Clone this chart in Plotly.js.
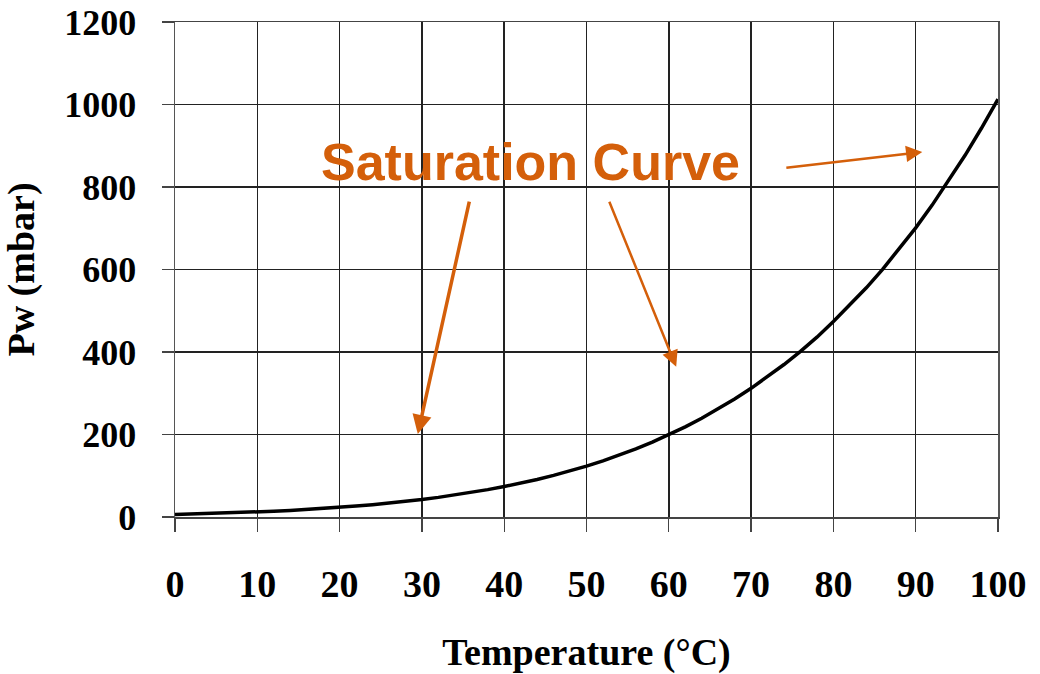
<!DOCTYPE html>
<html>
<head>
<meta charset="utf-8">
<script src="https://cdn.plot.ly/plotly-3.0.1.min.js"></script>
<style>html,body{margin:0;padding:0;background:#fff;}#chart{width:1040px;height:674px;}</style>
</head>
<body>
<div id="chart"></div>
<script>
// Temperature (°C)
const temperature = [0,2,4,6,8,10,12,14,16,18,20,22,24,26,28,30,32,34,36,38,40,42,44,46,48,50,52,54,56,58,60,62,64,66,68,70,72,74,76,78,80,82,84,86,88,90,92,94,96,98,100];
// Saturation vapour pressure Pw (mbar)
const pressure = [6.1,7.1,8.1,9.3,10.7,12.3,14.0,16.0,18.2,20.6,23.4,26.4,29.8,33.6,37.8,42.4,47.6,53.2,59.4,66.3,73.8,82.0,91.0,100.9,111.7,123.4,136.2,150.1,165.1,181.5,199.3,218.6,239.4,261.8,286.0,311.9,339.7,369.6,401.7,436.0,473.8,513.4,555.6,601.0,649.4,701.0,756.1,814.6,876.8,943.0,1013.0];
const xTicks = [0,10,20,30,40,50,60,70,80,90,100];
const yTicks = [0,200,400,600,800,1000,1200];
const annotationText = "Saturation Curve";

const orange = "#D45F0A";
const serif = "Liberation Serif, Times New Roman, serif";

const trace = {
  x: temperature,
  y: pressure,
  type: "scatter",
  mode: "lines",
  line: {color: "#000", width: 3.5},
  hoverinfo: "skip"
};

const layout = {
  width: 1040,
  height: 674,
  margin: {l: 175, r: 42, t: 22, b: 157},
  paper_bgcolor: "#fff",
  plot_bgcolor: "#fff",
  showlegend: false,
  xaxis: {
    range: [0, 100],
    tickvals: xTicks,
    ticktext: xTicks.map(String),
    showgrid: true,
    gridcolor: "#222",
    gridwidth: 1.5,
    zeroline: false,
    showline: true,
    linecolor: "#444",
    linewidth: 1.5,
    mirror: true,
    ticks: "outside",
    ticklen: 13,
    tickcolor: "#444",
    tickwidth: 1.3,
    ticklabelstandoff: 20,
    tickfont: {family: serif, size: 38, color: "#000", weight: "bold"},
    title: {text: "<b>Temperature (°C)</b>", font: {family: serif, size: 38, color: "#000"}, standoff: 36}
  },
  yaxis: {
    range: [0, 1200],
    tickvals: yTicks,
    ticktext: yTicks.map(String),
    showgrid: true,
    gridcolor: "#222",
    gridwidth: 1.5,
    zeroline: false,
    showline: true,
    linecolor: "#555",
    linewidth: 1.5,
    mirror: true,
    ticks: "outside",
    ticklen: 12,
    tickcolor: "#444",
    tickwidth: 1.3,
    ticklabelstandoff: 18,
    tickfont: {family: serif, size: 36, color: "#000", weight: "bold"},
    title: {text: "<b>Pw (mbar)</b>", font: {family: serif, size: 38, color: "#000"}, standoff: 22}
  },
  annotations: [
    {
      x: 43.2, y: 860, xref: "x", yref: "y",
      text: "<b>" + annotationText + "</b>",
      showarrow: false,
      font: {family: "Liberation Sans, Arial, sans-serif", size: 52, color: orange}
    },
    {
      x: 29.5, y: 201, xref: "x", yref: "y",
      ax: 35.8, ay: 768, axref: "x", ayref: "y",
      text: "", showarrow: true,
      arrowhead: 2, arrowsize: 1.1, arrowwidth: 3.5, arrowcolor: orange
    },
    {
      x: 60.9, y: 364, xref: "x", yref: "y",
      ax: 52.7, ay: 768, axref: "x", ayref: "y",
      text: "", showarrow: true,
      arrowhead: 2, arrowsize: 1.3, arrowwidth: 2.5, arrowcolor: orange
    },
    {
      x: 90.8, y: 885, xref: "x", yref: "y",
      ax: 74.1, ay: 846, axref: "x", ayref: "y",
      text: "", showarrow: true,
      arrowhead: 2, arrowsize: 1.3, arrowwidth: 2.5, arrowcolor: orange
    }
  ]
};

Plotly.newPlot("chart", [trace], layout, {staticPlot: true, displayModeBar: false});
</script>
</body>
</html>
